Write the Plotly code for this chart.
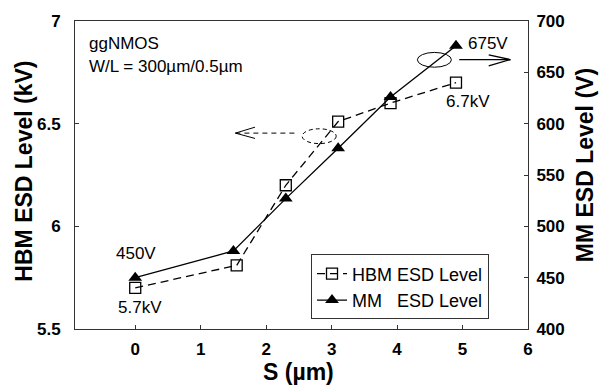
import plotly.graph_objects as go

# Data
s_hbm = [0, 1.55, 2.3, 3.1, 3.9, 4.9]
hbm_kv = [5.70, 5.81, 6.20, 6.51, 6.60, 6.70]
s_mm = [0, 1.5, 2.3, 3.1, 3.9, 4.9]
mm_v = [450, 476, 527, 576, 626, 676]

x_ticks = [0, 1, 2, 3, 4, 5, 6]
x_labels = ["0", "1", "2", "3", "4", "5", "6"]
y_ticks = [5.5, 6, 6.5, 7]
y_labels = ["5.5", "6", "6.5", "7"]
y2_ticks = [400, 450, 500, 550, 600, 650, 700]
y2_labels = ["400", "450", "500", "550", "600", "650", "700"]

FONT = "Liberation Sans, Arial, sans-serif"
BLACK = "#000000"

fig = go.Figure()
fig.add_trace(go.Scatter(
    x=s_hbm, y=hbm_kv, name="HBM ESD Level", mode="lines+markers",
    line=dict(color=BLACK, width=1.3, dash="8px,5px"),
    marker=dict(symbol="square-open", size=11, color=BLACK, line=dict(width=1.3)),
    yaxis="y"))
fig.add_trace(go.Scatter(
    x=s_mm, y=mm_v, name="MM\u00a0\u00a0\u00a0ESD Level", mode="lines+markers",
    line=dict(color=BLACK, width=1.3),
    marker=dict(symbol="triangle-up", size=12, color=BLACK),
    yaxis="y2"))

annos = []
def txt(t, x, y, size=16):
    annos.append(dict(text=t, x=x, y=y, xref="x", yref="y", xanchor="left",
                      yanchor="middle", showarrow=False,
                      font=dict(family=FONT, size=size, color=BLACK)))
txt("ggNMOS", -0.74, 6.89, 17)
txt("W/L = 300µm/0.5µm", -0.74, 6.78, 17)
txt("675V", 5.05, 6.89, 17)
txt("6.7kV", 4.72, 6.606, 17)
txt("450V", -0.33, 5.866, 17)
txt("5.7kV", -0.30, 5.603, 17)

# axis titles
annos.append(dict(text="HBM ESD Level (kV)", x=-0.1127, y=0.514, xref="paper", yref="paper",
                  textangle=-90, showarrow=False, xanchor="center", yanchor="middle",
                  font=dict(family=FONT, size=23, color=BLACK, weight=700)))
annos.append(dict(text="MM ESD Level (V)", x=1.1244, y=0.533, xref="paper", yref="paper",
                  textangle=-90, showarrow=False, xanchor="center", yanchor="middle",
                  font=dict(family=FONT, size=23, color=BLACK, weight=700)))
annos.append(dict(text="S (µm)", x=0.4926, y=-0.14, xref="paper", yref="paper",
                  showarrow=False, xanchor="center", yanchor="middle",
                  font=dict(family=FONT, size=23, color=BLACK, weight=700)))

shapes = [
    # solid ellipse + arrow (right)
    dict(type="circle", xref="x", yref="y", x0=4.31, x1=4.83, y0=6.775, y1=6.847,
         line=dict(color=BLACK, width=1)),
    dict(type="line", xref="x", yref="y", x0=4.95, x1=5.73, y0=6.812, y1=6.812,
         line=dict(color=BLACK, width=1.3)),
    dict(type="line", xref="x", yref="y", x0=5.40, x1=5.73, y0=6.835, y1=6.812,
         line=dict(color=BLACK, width=1.3)),
    dict(type="line", xref="x", yref="y", x0=5.40, x1=5.73, y0=6.782, y1=6.812,
         line=dict(color=BLACK, width=1.3)),
    # dashed ellipse + arrow (left)
    dict(type="circle", xref="x", yref="y", x0=2.55, x1=3.07, y0=6.403, y1=6.475,
         line=dict(color=BLACK, width=1, dash="4px,3px")),
    dict(type="line", xref="x", yref="y", x0=1.53, x1=2.45, y0=6.454, y1=6.454,
         line=dict(color=BLACK, width=1, dash="5px,4px")),
    dict(type="line", xref="x", yref="y", x0=1.53, x1=1.83, y0=6.454, y1=6.483,
         line=dict(color=BLACK, width=1)),
    dict(type="line", xref="x", yref="y", x0=1.53, x1=1.83, y0=6.454, y1=6.428,
         line=dict(color=BLACK, width=1)),
]

axis_common = dict(showgrid=False, zeroline=False, showline=True, linecolor="#333333",
                   linewidth=1, ticks="inside", ticklen=4, tickcolor="#333333",
                   tickfont=dict(family=FONT, size=17, color=BLACK, weight=700))

fig.update_layout(
    width=605, height=391,
    margin=dict(l=75, r=77, t=15, b=62),
    paper_bgcolor="white", plot_bgcolor="white",
    font=dict(family=FONT, color=BLACK),
    xaxis=dict(range=[-0.92, 6], tickvals=x_ticks, ticktext=x_labels, mirror=True,
               ticklabelstandoff=5, **axis_common),
    yaxis=dict(range=[5.5, 7], tickvals=y_ticks, ticktext=y_labels,
               ticklabelstandoff=10, **axis_common),
    yaxis2=dict(range=[400, 700], tickvals=y2_ticks, ticktext=y2_labels,
                overlaying="y", side="right", ticklabelstandoff=4, **axis_common),
    legend=dict(x=0.521, y=0.242, xanchor="left", yanchor="top",
                bgcolor="white", bordercolor="#333333", borderwidth=1,
                font=dict(family=FONT, size=18, color=BLACK),
                itemwidth=30, tracegroupgap=0),
    showlegend=True,
    annotations=annos,
    shapes=shapes,
)

fig.write_html("out.html")
